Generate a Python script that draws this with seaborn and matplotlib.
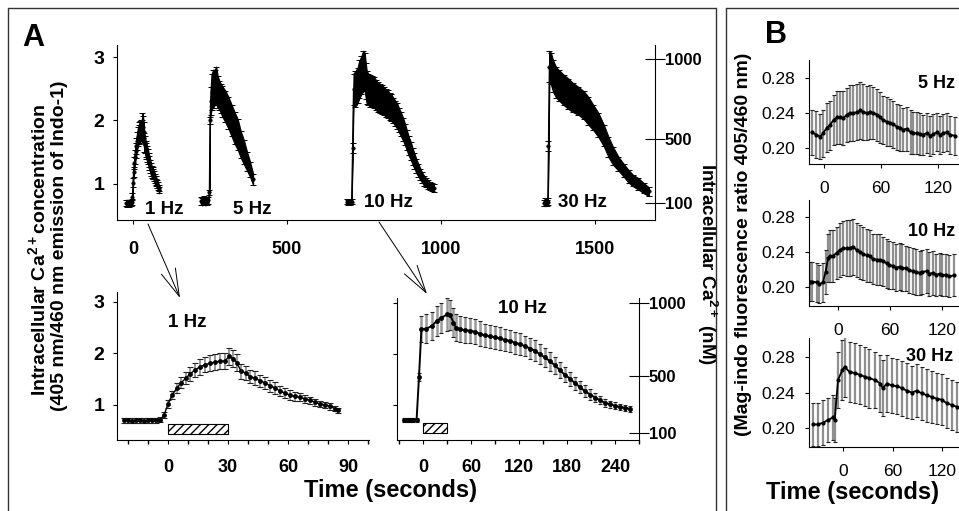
import numpy as np
import pandas as pd
import matplotlib
matplotlib.use('Agg')
import matplotlib.pyplot as plt
import seaborn as sns
from matplotlib.patches import Rectangle, FancyArrowPatch, ArrowStyle
from matplotlib.lines import Line2D

# ------------------------------------------------------------------ data
# Panel A, 1 Hz (time s, ratio mean, error)
hz1_t = [-22, -20, -18, -16, -14, -12, -10, -8, -6, -4, -2,
         0, 2, 4.5, 6.5, 9, 11, 13.5, 16, 18.5, 21,
         23.5, 26, 28.5, 30.5, 32.5, 34.5, 36.5, 39, 41, 43.5,
         46, 48.5, 51, 53.5, 56, 58.5, 61, 63.5, 66, 68.5,
         71, 73.5, 76, 78.5, 81, 83.5, 85]
hz1_m = [0.70, 0.70, 0.69, 0.70, 0.70, 0.69, 0.70, 0.70, 0.70, 0.71, 0.80,
         1.02, 1.19, 1.33, 1.43, 1.52, 1.60, 1.68, 1.74, 1.78, 1.81,
         1.83, 1.85, 1.85, 1.94, 1.90, 1.82, 1.65, 1.62, 1.55, 1.52,
         1.47, 1.43, 1.37, 1.33, 1.27, 1.23, 1.19, 1.17, 1.15, 1.12,
         1.09, 1.05, 1.02, 1.00, 0.97, 0.93, 0.90]
hz1_e = [0.05, 0.05, 0.05, 0.05, 0.05, 0.05, 0.05, 0.05, 0.05, 0.05, 0.06,
         0.07, 0.08, 0.10, 0.11, 0.12, 0.13, 0.14, 0.15, 0.15, 0.16,
         0.16, 0.16, 0.16, 0.17, 0.17, 0.16, 0.15, 0.14, 0.13, 0.13,
         0.12, 0.12, 0.11, 0.11, 0.10, 0.10, 0.09, 0.09, 0.08, 0.08,
         0.07, 0.07, 0.06, 0.06, 0.06, 0.05, 0.05]

# Panel A, 5 Hz (time relative to stimulation)
hz5_t = [-30, -25, -20, -15, -10, -5, -2, 0, 2, 5, 10, 15, 20, 25, 30, 35, 40,
         50, 60, 70, 80, 90, 100, 110, 120, 130, 140]
hz5_m = [0.73, 0.72, 0.74, 0.72, 0.73, 0.74, 0.87, 2.00, 2.30, 2.45, 2.50, 2.52,
         2.55, 2.45, 2.40, 2.35, 2.30, 2.22, 2.12, 2.00, 1.88, 1.78, 1.62, 1.50,
         1.36, 1.23, 1.07]
hz5_e = [0.06, 0.06, 0.07, 0.06, 0.06, 0.06, 0.04, 0.05, 0.22, 0.28, 0.30, 0.28,
         0.30, 0.25, 0.23, 0.23, 0.24, 0.25, 0.25, 0.25, 0.25, 0.24, 0.21, 0.19,
         0.15, 0.12, 0.09]

# Panel A, 10 Hz
hz10_t = [-24, -20, -16, -12, -8, -5, -2, 4, 11, 17, 23, 30, 34, 38, 41, 46, 52,
          59, 65, 71, 77, 84, 90, 96, 102, 109, 115, 121, 127, 134, 140, 146,
          152, 159, 165, 171, 177, 184, 190, 196, 202, 209, 215, 221, 227, 234,
          240, 246, 252, 259]
hz10_m = [0.72, 0.71, 0.72, 0.71, 0.72, 1.56, 2.49, 2.50, 2.55, 2.65, 2.71, 2.78,
          2.77, 2.62, 2.52, 2.49, 2.47, 2.46, 2.44, 2.40, 2.37, 2.35, 2.33, 2.31,
          2.28, 2.26, 2.22, 2.20, 2.16, 2.11, 2.07, 2.00, 1.94, 1.86, 1.78, 1.69,
          1.60, 1.52, 1.43, 1.36, 1.28, 1.21, 1.15, 1.10, 1.05, 1.02, 0.99, 0.97,
          0.95, 0.93]
hz10_e = [0.04, 0.04, 0.04, 0.04, 0.04, 0.08, 0.25, 0.28, 0.28, 0.30, 0.30, 0.32,
          0.30, 0.28, 0.26, 0.25, 0.25, 0.24, 0.24, 0.24, 0.23, 0.23, 0.23, 0.22,
          0.22, 0.22, 0.21, 0.21, 0.20, 0.20, 0.20, 0.19, 0.19, 0.18, 0.17, 0.16,
          0.15, 0.14, 0.13, 0.12, 0.11, 0.10, 0.09, 0.08, 0.08, 0.07, 0.07, 0.06,
          0.06, 0.06]

# Panel A, 30 Hz
hz30_t = [-15, -10, -5, -2, 0, 3, 8, 15, 25, 35, 50, 65, 80, 97, 115, 130, 145,
          162, 180, 195, 210, 227, 245, 260, 275, 292, 310, 325]
hz30_m = [0.70, 0.71, 0.70, 0.72, 1.60, 2.85, 2.82, 2.70, 2.60, 2.55, 2.48, 2.42,
          2.36, 2.31, 2.24, 2.15, 2.05, 1.93, 1.76, 1.58, 1.44, 1.32, 1.21, 1.12,
          1.05, 1.00, 0.93, 0.88]
hz30_e = [0.05, 0.06, 0.05, 0.05, 0.08, 0.25, 0.25, 0.25, 0.24, 0.24, 0.24, 0.24,
          0.23, 0.22, 0.22, 0.22, 0.20, 0.19, 0.17, 0.16, 0.14, 0.11, 0.10, 0.10,
          0.09, 0.09, 0.08, 0.07]

# start of each stimulation in the long record (s)
top_offsets = [0, 250, 718, 1349]
top_labels = ['1 Hz', '5 Hz', '10 Hz', '30 Hz']
top_label_t = [100, 386, 828, 1458]
top_label_y = [0.59, 0.59, 0.70, 0.70]

stim_start, stim_len = 0, 30

# calibration (right axes): ratio positions and nM labels
cal_top_ratio = [0.70, 1.71, 2.97]
cal_bot_ratio = [0.46, 1.57, 3.00]
cal_labels = ['100', '500', '1000']

# Panel B, mag-indo ratio
b5_t = [-13, -8, -4, -1, 3, 6, 10, 14, 17, 20, 24, 27, 31, 35, 38, 41, 45, 48,
        52, 56, 59, 62, 66, 69, 73, 77, 80, 83, 87, 91, 94, 98, 101, 104, 108,
        112, 115, 119, 122, 125, 129, 133, 138]
b5_m = [0.218, 0.215, 0.213, 0.217, 0.223, 0.226, 0.232, 0.235, 0.235, 0.234,
        0.238, 0.240, 0.240, 0.241, 0.243, 0.241, 0.240, 0.241, 0.240, 0.238,
        0.235, 0.232, 0.230, 0.229, 0.227, 0.224, 0.223, 0.221, 0.222, 0.218,
        0.217, 0.217, 0.216, 0.215, 0.217, 0.214, 0.216, 0.218, 0.215, 0.217,
        0.218, 0.215, 0.214]
b5_e = [0.026, 0.027, 0.026, 0.027, 0.028, 0.028, 0.029, 0.030, 0.030, 0.031,
        0.031, 0.032, 0.032, 0.032, 0.033, 0.032, 0.031, 0.031, 0.030, 0.030,
        0.029, 0.028, 0.028, 0.027, 0.027, 0.026, 0.026, 0.025, 0.025, 0.025,
        0.024, 0.024, 0.024, 0.023, 0.023, 0.023, 0.023, 0.022, 0.022, 0.022,
        0.022, 0.022, 0.022]

b10_t = [-32, -29, -24, -21, -17, -14, -11, -9, -6, -1, 2, 6, 10, 14, 17, 22, 25,
         29, 33, 37, 40, 45, 48, 52, 56, 59, 63, 67, 71, 74, 78, 82, 86, 90, 94,
         97, 102, 105, 109, 113, 117, 120, 124, 128, 133]
b10_m = [0.206, 0.206, 0.205, 0.203, 0.205, 0.217, 0.233, 0.235, 0.235, 0.239,
         0.242, 0.244, 0.244, 0.244, 0.246, 0.242, 0.240, 0.238, 0.236, 0.235,
         0.232, 0.231, 0.231, 0.229, 0.227, 0.225, 0.224, 0.222, 0.223, 0.222,
         0.221, 0.219, 0.218, 0.217, 0.216, 0.217, 0.218, 0.215, 0.216, 0.214,
         0.215, 0.213, 0.214, 0.212, 0.213]
b10_e = [0.022, 0.022, 0.022, 0.022, 0.022, 0.025, 0.028, 0.030, 0.030, 0.030,
         0.031, 0.031, 0.032, 0.032, 0.032, 0.031, 0.031, 0.030, 0.030, 0.030,
         0.029, 0.029, 0.029, 0.028, 0.028, 0.028, 0.027, 0.027, 0.027, 0.027,
         0.026, 0.026, 0.026, 0.026, 0.025, 0.025, 0.025, 0.025, 0.025, 0.024,
         0.024, 0.024, 0.024, 0.024, 0.024]

b30_t = [-36, -30, -24, -18, -12, -10, -6, -1, 2, 8, 14, 20, 26, 32, 39, 45, 48,
         53, 59, 65, 71, 77, 83, 89, 95, 101, 107, 113, 119, 125, 131, 137]
b30_m = [0.204, 0.204, 0.206, 0.209, 0.212, 0.209, 0.254, 0.265, 0.269, 0.263,
         0.262, 0.260, 0.258, 0.256, 0.254, 0.250, 0.245, 0.250, 0.248, 0.247,
         0.245, 0.242, 0.240, 0.242, 0.239, 0.237, 0.235, 0.233, 0.232, 0.228,
         0.226, 0.224]
b30_e = [0.024, 0.024, 0.025, 0.025, 0.025, 0.025, 0.032, 0.034, 0.034, 0.034,
         0.034, 0.033, 0.033, 0.033, 0.032, 0.032, 0.032, 0.032, 0.031, 0.031,
         0.031, 0.031, 0.030, 0.030, 0.030, 0.030, 0.029, 0.029, 0.029, 0.028,
         0.028, 0.028]

b_ticks = [0.20, 0.24, 0.28]
b_tick_labels = ['0.20', '0.24', '0.28']

# ------------------------------------------------------------------ style
sns.set_theme(style='ticks')
plt.rcParams['font.family'] = ['Liberation Sans', 'DejaVu Sans']
plt.rcParams.update({
    'mathtext.fontset': 'custom',
    'mathtext.rm': 'Liberation Sans:bold',
    'mathtext.bf': 'Liberation Sans:bold',
    'mathtext.default': 'bf',
    'axes.edgecolor': 'black',
    'xtick.color': 'black', 'ytick.color': 'black', 'text.color': 'black',
})

W, H = 959, 511
fig = plt.figure(figsize=(W / 100, H / 100), dpi=100)
fig.patch.set_facecolor('white')


def px_axes(x0, y0, x1, y1):
    ax = fig.add_axes([x0 / W, 1 - y1 / H, (x1 - x0) / W, (y1 - y0) / H])
    ax.set_facecolor('none')
    ax.spines['top'].set_visible(False)
    ax.spines['right'].set_visible(False)
    for s in ax.spines.values():
        s.set_color('black')
        s.set_linewidth(0.8)
    ax.tick_params(direction='out', length=3, width=0.8)
    ax.set_xlabel('')
    ax.set_ylabel('')
    return ax


def right_cal(ax, ticks, labels):
    ax2 = ax.twinx()
    ax2.set_ylim(ax.get_ylim())
    for s in ['top', 'left', 'bottom']:
        ax2.spines[s].set_visible(False)
    ax2.spines['right'].set_color('black')
    ax2.spines['right'].set_linewidth(0.8)
    ax2.set_yticks(ticks)
    ax2.set_yticklabels(labels, fontsize=12, fontweight='bold')
    ax2.tick_params(axis='y', direction='inout', length=14, width=0.8, pad=0)
    ax2.set_ylabel('')
    return ax2


def band_trace(ax, t, m, e, off):
    tt = np.asarray(t, float) + off
    m = np.asarray(m, float)
    e = np.asarray(e, float)
    ax.fill_between(tt, m - e, m + e, facecolor='black', edgecolor='black', lw=0.8)
    ax.errorbar(tt, m, yerr=e, fmt='none', ecolor='black', elinewidth=0.7,
                capsize=2, capthick=0.7)
    df = pd.DataFrame({'t': tt, 'm': m})
    sns.lineplot(data=df, x='t', y='m', ax=ax, color='black', lw=0.9,
                 marker='o', markersize=2.5, markerfacecolor='black',
                 markeredgecolor='black', markeredgewidth=0.4,
                 estimator=None, sort=False)


def eb_trace(ax, t, m, e, ms=3.5, lw=1.0, capw=4, ecolor='#808080', elw=1.0):
    t = np.asarray(t, float)
    m = np.asarray(m, float)
    e = np.asarray(e, float)
    ax.errorbar(t, m, yerr=e, fmt='none', ecolor=ecolor, elinewidth=elw)
    ax.plot(t, m + e, ls='none', marker='_', ms=capw, mew=0.8, color='#222')
    ax.plot(t, m - e, ls='none', marker='_', ms=capw, mew=0.8, color='#222')
    df = pd.DataFrame({'t': t, 'm': m})
    sns.lineplot(data=df, x='t', y='m', ax=ax, color='black', lw=lw,
                 marker='o', markersize=ms, markeredgewidth=0,
                 estimator=None, sort=False)


# ------------------------------------------------------------------ panel A top
ax_top = px_axes(117, 45, 655, 220)
traces = [(hz1_t, hz1_m, hz1_e), (hz5_t, hz5_m, hz5_e),
          (hz10_t, hz10_m, hz10_e), (hz30_t, hz30_m, hz30_e)]
for (t, m, e), off in zip(traces, top_offsets):
    band_trace(ax_top, t, m, e, off)
ax_top.set_xlim(-52, 1695)
ax_top.set_ylim(0.43, 3.19)
ax_top.set_xticks([0, 500, 1000, 1500])
ax_top.set_xticklabels(['0', '500', '1000', '1500'], fontsize=13, fontweight='bold')
ax_top.set_yticks([1, 2, 3])
ax_top.set_yticklabels(['1', '2', '3'], fontsize=14, fontweight='bold')
ax_top.tick_params(axis='x', pad=12)
ax_top.tick_params(axis='y', pad=6)
ax_top.set_xlabel('')
ax_top.set_ylabel('')
for lab, tx, ty in zip(top_labels, top_label_t, top_label_y):
    ax_top.text(tx, ty, lab, ha='center', va='center', fontsize=13.5, fontweight='bold')
right_cal(ax_top, cal_top_ratio, cal_labels)

# ------------------------------------------------------------------ panel A bottom left (1 Hz)
ax_bl = px_axes(117, 292, 369, 440)
ax_bl.add_patch(Rectangle((stim_start, 0.44), stim_len, 0.19, fill=False,
                          hatch='////', edgecolor='black', lw=0.8))
eb_trace(ax_bl, hz1_t, hz1_m, hz1_e, ecolor='#7a7a7a', elw=1.1)
ax_bl.set_xlim(-25.5, 100.5)
ax_bl.set_ylim(0.32, 3.19)
ax_bl.set_xticks([0, 30, 60, 90])
ax_bl.set_xticks(list(range(-20, 101, 10)), minor=True)
ax_bl.set_xticklabels(['0', '30', '60', '90'], fontsize=13, fontweight='bold')
ax_bl.set_yticks([1, 2, 3])
ax_bl.set_yticklabels(['1', '2', '3'], fontsize=14, fontweight='bold')
ax_bl.tick_params(axis='x', which='both', length=3, pad=11)
ax_bl.tick_params(axis='y', pad=6)
ax_bl.set_xlabel('')
ax_bl.set_ylabel('')
ax_bl.text(9.5, 2.59, '1 Hz', ha='center', va='center', fontsize=13.5, fontweight='bold')

# ------------------------------------------------------------------ panel A bottom right (10 Hz)
ax_br = px_axes(397, 298, 639, 440)
ax_br.add_patch(Rectangle((stim_start, 0.46), stim_len, 0.19, fill=False,
                          hatch='////', edgecolor='black', lw=0.8))
eb_trace(ax_br, hz10_t, hz10_m, hz10_e, ms=3.5, lw=1.4, capw=3, ecolor='#9a9a9a', elw=1.8)
ax_br.set_xlim(-32.5, 270)
ax_br.set_ylim(0.32, 3.10)
ax_br.set_xticks([0, 60, 120, 180, 240])
ax_br.set_xticks(list(range(-30, 271, 30)), minor=True)
ax_br.set_xticklabels(['0', '60', '120', '180', '240'], fontsize=13, fontweight='bold')
ax_br.set_yticks([1, 2, 3])
ax_br.set_yticklabels([])
ax_br.tick_params(axis='x', which='both', length=3, pad=11)
ax_br.set_xlabel('')
ax_br.set_ylabel('')
ax_br.text(124, 2.90, '10 Hz', ha='center', va='center', fontsize=13.5, fontweight='bold')
right_cal(ax_br, cal_bot_ratio, cal_labels)

# ------------------------------------------------------------------ panel B
b_specs = [
    ((809, 60, 959, 164), (-15.8, 142), (0.1817, 0.3006), b5_t, b5_m, b5_e, '5 Hz', (118, 0.274)),
    ((809, 200, 959, 306), (-33, 139), (0.178, 0.2994), b10_t, b10_m, b10_e, '10 Hz', (108, 0.263)),
    ((809, 338, 959, 447), (-41, 140), (0.1786, 0.3014), b30_t, b30_m, b30_e, '30 Hz', (105, 0.280)),
]
for (box, xl, yl, t, m, e, lab, lpos) in b_specs:
    axb = px_axes(*box)
    eb_trace(axb, t, m, e, ms=3, lw=1.3, capw=3, ecolor='#8f8f8f', elw=1.6)
    axb.set_xlim(*xl)
    axb.set_ylim(*yl)
    axb.set_xticks([0, 60, 120])
    axb.set_xticklabels(['0', '60', '120'], fontsize=12.5)
    axb.set_yticks(b_ticks)
    axb.set_yticklabels(b_tick_labels, fontsize=12.5)
    axb.tick_params(axis='x', pad=9)
    axb.tick_params(axis='y', pad=7)
    axb.set_xlabel('')
    axb.set_ylabel('')
    axb.text(lpos[0], lpos[1], lab, ha='center', va='center', fontsize=13, fontweight='bold')

# ------------------------------------------------------------------ texts
def ftext(x, y, s, **kw):
    fig.text(x / W, 1 - y / H, s, **kw)

ftext(33, 38, 'A', fontsize=22, fontweight='bold', ha='center', va='center')
ftext(776, 35, 'B', fontsize=22, fontweight='bold', ha='center', va='center')
ftext(38, 250, r'Intracellular Ca$^{2+}$concentration', rotation=90,
      fontsize=14, fontweight='bold', ha='center', va='center')
ftext(60, 246, '(405 nm/460 nm emission of Indo-1)', rotation=90,
      fontsize=14, fontweight='bold', ha='center', va='center')
ftext(707, 264, r'Intracellular Ca$^{2+}$ (nM)', rotation=270,
      fontsize=13.5, fontweight='bold', ha='center', va='center')
ftext(744, 244, '(Mag-indo fluorescence ratio 405/460 nm)', rotation=90,
      fontsize=14, fontweight='bold', ha='center', va='center')
ftext(391, 490, 'Time (seconds)', fontsize=17, fontweight='bold', ha='center', va='center')
ftext(853, 492, 'Time (seconds)', fontsize=17, fontweight='bold', ha='center', va='center')

# ------------------------------------------------------------------ frames and arrows
def fline(x0, y0, x1, y1, color='#333', lw=1.0):
    fig.add_artist(Line2D([x0 / W, x1 / W], [1 - y0 / H, 1 - y1 / H],
                          transform=fig.transFigure, color=color, lw=lw))

fline(8, 8, 716, 8)
fline(8, 8, 8, 511)
fline(716, 8, 716, 511)
fline(726, 8, 959, 8)
fline(726, 8, 726, 511)

arrow_style = ArrowStyle('->', head_length=0.9, head_width=0.25)
for (x0, y0, x1, y1) in [(148, 224, 180, 298), (379, 222, 427, 294)]:
    fig.add_artist(FancyArrowPatch((x0 / W, 1 - y0 / H), (x1 / W, 1 - y1 / H),
                                   transform=fig.transFigure, arrowstyle=arrow_style,
                                   mutation_scale=22, lw=0.7, color='black',
                                   shrinkA=0, shrinkB=0))

fig.savefig('out.png', dpi=100, facecolor='white')
